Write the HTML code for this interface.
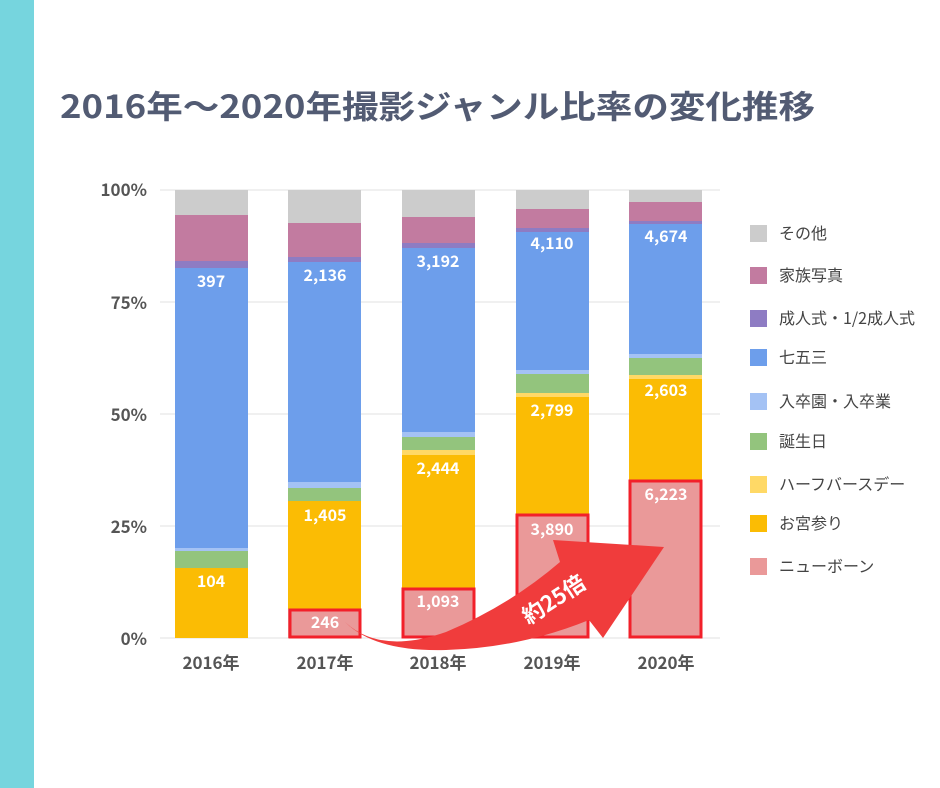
<!DOCTYPE html>
<html><head><meta charset="utf-8"><style>
body{margin:0;background:#fff;}
svg{display:block;font-family:"Noto Sans CJK JP","Liberation Sans",sans-serif;}
</style></head><body>
<svg width="940" height="788" viewBox="0 0 940 788">
<rect x="0" y="0" width="34" height="788" fill="#76d5de"/>
<text x="60" y="118" font-size="32" font-weight="bold" fill="#525b73" textLength="755" lengthAdjust="spacingAndGlyphs">2016年～2020年撮影ジャンル比率の変化推移</text>
<g stroke="#e2e2e2" stroke-width="1">
<line x1="160" y1="190" x2="720" y2="190"/><line x1="160" y1="302" x2="720" y2="302"/>
<line x1="160" y1="414" x2="720" y2="414"/><line x1="160" y1="526" x2="720" y2="526"/>
<line x1="160" y1="638" x2="720" y2="638"/>
</g>
<g font-size="17" font-weight="bold" fill="#555" text-anchor="end">
<text x="147" y="196">100%</text><text x="147" y="309">75%</text><text x="147" y="421">50%</text><text x="147" y="533">25%</text><text x="147" y="645">0%</text>
</g>
<g>
<rect x="175" y="190" width="73" height="25" fill="#cccccc"/>
<rect x="175" y="215" width="73" height="46" fill="#c27ba0"/>
<rect x="175" y="261" width="73" height="7" fill="#8e7cc3"/>
<rect x="175" y="268" width="73" height="280" fill="#6d9eeb"/>
<rect x="175" y="548" width="73" height="3" fill="#a4c2f4"/>
<rect x="175" y="551" width="73" height="17" fill="#93c47d"/>
<rect x="175" y="568" width="73" height="70" fill="#fbbc04"/>
<rect x="288" y="190" width="73" height="33" fill="#cccccc"/>
<rect x="288" y="223" width="73" height="34" fill="#c27ba0"/>
<rect x="288" y="257" width="73" height="5" fill="#8e7cc3"/>
<rect x="288" y="262" width="73" height="220" fill="#6d9eeb"/>
<rect x="288" y="482" width="73" height="6" fill="#a4c2f4"/>
<rect x="288" y="488" width="73" height="13" fill="#93c47d"/>
<rect x="288" y="501" width="73" height="108" fill="#fbbc04"/>
<rect x="288" y="609" width="73" height="29" fill="#ea9999"/>
<rect x="402" y="190" width="73" height="27" fill="#cccccc"/>
<rect x="402" y="217" width="73" height="26" fill="#c27ba0"/>
<rect x="402" y="243" width="73" height="5" fill="#8e7cc3"/>
<rect x="402" y="248" width="73" height="184" fill="#6d9eeb"/>
<rect x="402" y="432" width="73" height="5" fill="#a4c2f4"/>
<rect x="402" y="437" width="73" height="13" fill="#93c47d"/>
<rect x="402" y="450" width="73" height="5" fill="#ffd966"/>
<rect x="402" y="455" width="73" height="133" fill="#fbbc04"/>
<rect x="402" y="588" width="73" height="50" fill="#ea9999"/>
<rect x="516" y="190" width="73" height="19" fill="#cccccc"/>
<rect x="516" y="209" width="73" height="19" fill="#c27ba0"/>
<rect x="516" y="228" width="73" height="4" fill="#8e7cc3"/>
<rect x="516" y="232" width="73" height="138" fill="#6d9eeb"/>
<rect x="516" y="370" width="73" height="4" fill="#a4c2f4"/>
<rect x="516" y="374" width="73" height="19" fill="#93c47d"/>
<rect x="516" y="393" width="73" height="4" fill="#ffd966"/>
<rect x="516" y="397" width="73" height="117" fill="#fbbc04"/>
<rect x="516" y="514" width="73" height="124" fill="#ea9999"/>
<rect x="629" y="190" width="73" height="12" fill="#cccccc"/>
<rect x="629" y="202" width="73" height="19" fill="#c27ba0"/>
<rect x="629" y="221" width="73" height="3" fill="#8e7cc3"/>
<rect x="629" y="224" width="73" height="130" fill="#6d9eeb"/>
<rect x="629" y="354" width="73" height="4" fill="#a4c2f4"/>
<rect x="629" y="358" width="73" height="17" fill="#93c47d"/>
<rect x="629" y="375" width="73" height="4" fill="#ffd966"/>
<rect x="629" y="379" width="73" height="101" fill="#fbbc04"/>
<rect x="629" y="480" width="73" height="158" fill="#ea9999"/>
</g>
<g fill="none" stroke="#f2202a" stroke-width="3">
<rect x="290" y="610" width="70" height="27"/>
<rect x="403" y="589" width="71" height="48"/>
<rect x="517" y="515" width="71" height="122"/>
<rect x="630" y="481" width="71" height="156"/>
</g>
<path d="M345,622 Q380,655 446,632 Q510,605 560,562 L553,540 L664,547 L603,638 L589,620 Q520,648 446,650 Q375,652 345,622 Z" fill="#f03c3c"/>
<text x="0" y="0" font-size="22" font-weight="bold" fill="#fff" text-anchor="middle" transform="translate(558,606) rotate(-33)">約25倍</text>
<g font-size="16" font-weight="bold" fill="#fff" text-anchor="middle">
<text x="211" y="287">397</text><text x="325" y="281">2,136</text><text x="438" y="267">3,192</text>
<text x="552" y="249">4,110</text><text x="666" y="242">4,674</text>
<text x="211" y="587">104</text><text x="325" y="521">1,405</text><text x="438" y="474">2,444</text>
<text x="552" y="416">2,799</text><text x="666" y="396">2,603</text>
<text x="325" y="628">246</text><text x="438" y="607">1,093</text><text x="552" y="535">3,890</text><text x="666" y="500">6,223</text>
</g>
<g font-size="17" font-weight="bold" fill="#555" text-anchor="middle">
<text x="211" y="669">2016年</text><text x="325" y="669">2017年</text><text x="438" y="669">2018年</text><text x="552" y="669">2019年</text><text x="666" y="669">2020年</text>
</g>
<g font-size="16" fill="#444">
<rect x="750" y="225" width="17" height="17" fill="#cccccc"/><text x="779" y="239">その他</text>
<rect x="750" y="267" width="17" height="17" fill="#c27ba0"/><text x="779" y="281">家族写真</text>
<rect x="750" y="310" width="17" height="17" fill="#8e7cc3"/><text x="779" y="324">成人式・1/2成人式</text>
<rect x="750" y="349" width="17" height="17" fill="#6d9eeb"/><text x="779" y="363">七五三</text>
<rect x="750" y="393" width="17" height="17" fill="#a4c2f4"/><text x="779" y="407">入卒園・入卒業</text>
<rect x="750" y="433" width="17" height="17" fill="#93c47d"/><text x="779" y="447">誕生日</text>
<rect x="750" y="476" width="17" height="17" fill="#ffd966"/><text x="779" y="490">ハーフバースデー</text>
<rect x="750" y="515" width="17" height="17" fill="#fbbc04"/><text x="779" y="529">お宮参り</text>
<rect x="750" y="558" width="17" height="17" fill="#ea9999"/><text x="779" y="572">ニューボーン</text>
</g>
</svg>
</body></html>
